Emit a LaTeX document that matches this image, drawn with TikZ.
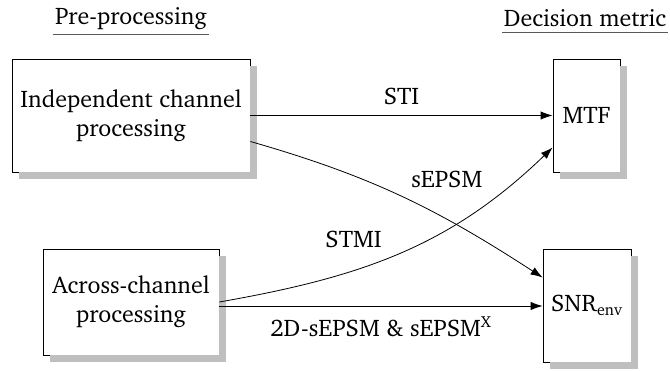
\documentclass[tikz,border=0pt]{standalone}
\usepackage[T1]{fontenc}
\usepackage{charter}
\usepackage{xcolor}
\usetikzlibrary{arrows.meta, backgrounds}

\tikzset{
    procbox/.style={draw, fill=white, thin, align=center, inner sep=0pt},
    boxshadow/.style={fill=black!25},
    heading/.style={inner sep=1pt},
    flow/.style={-{Latex[length=6pt, width=4.2pt]}, thin},
}

\begin{document}
\begin{tikzpicture}[x=0.5pt, y=-0.5pt, font=\fontsize{12}{14.5}\selectfont]
    \useasboundingbox (0,0) rectangle (670,370);

    % headings
    \node[heading] (pre) at (131,18) {Pre-processing};
    \node[heading] (dec) at (585,18) {Decision metric};
    \draw[black!65] ([yshift=-1.5pt]pre.south west) -- ([yshift=-1.5pt]pre.south east);
    \draw[black!65] ([yshift=-1.5pt]dec.south west) -- ([yshift=-1.5pt]dec.south east);

    % boxes
    \node[procbox, minimum width=119pt, minimum height=56.5pt] (indep) at (131,115.5) {Independent channel\\processing};
    \node[procbox, minimum width=88pt, minimum height=53pt] (across) at (131,302) {Across-channel\\processing};
    \node[procbox, minimum width=33.5pt, minimum height=56.5pt] (mtf) at (586.5,115.5) {MTF};
    \node[procbox, minimum width=44pt, minimum height=56.5pt] (snr) at (587,305.5) {SNR\textsubscript{env}};

    % shadows: the strips right of and below each box
    \foreach \n in {indep, across, mtf, snr} {
        \fill[boxshadow] ([yshift=-3.5pt]\n.north east) rectangle ([xshift=3.5pt, yshift=-3.5pt]\n.south east);
        \fill[boxshadow] ([xshift=3.5pt]\n.south west) rectangle ([xshift=3.5pt, yshift=-3.5pt]\n.south east);
    }

    % connectors
    \draw[flow] (indep.east) -- node[above=2pt] {STI} (indep.east -| mtf.west);
    \draw[flow] ([yshift=-13pt]indep.east) to[out=-16, in=147]
        node[pos=0.5, above right=1pt] {sEPSM} ([yshift=14pt]snr.west);
    \draw[flow] (across.east) to[out=10, in=224]
        node[pos=0.47, above left=1pt] {STMI} ([yshift=-16pt]mtf.west);
    \draw[flow] ([yshift=-2pt]across.east) -- node[below=2pt] {2D-sEPSM \& sEPSM\textsuperscript{X}} ([yshift=-2pt]across.east -| snr.west);
\end{tikzpicture}
\end{document}
